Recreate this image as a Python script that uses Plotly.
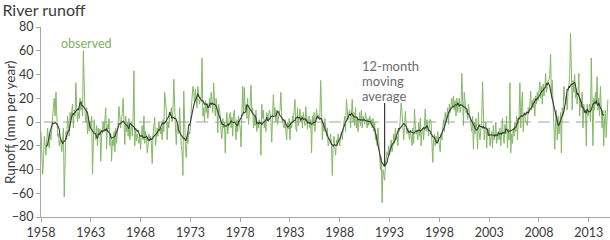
import numpy as np
import pandas as pd
import plotly.graph_objects as go

# monthly observed runoff anomaly (mm per year), one row per year, Jan..Dec
obs_1958_1967 = [
    -8, -25, -44, -30, -12, -20, -28, -15, -5, -18, -22, -10,
    -15, -5, 10, 13, 20, 5, 25, -8, -12, -10, -20, -15,
    -18, -25, -10, -5, -63, -20, -8, -15, 5, -2, -12, 8,
    2, 9, 15, -5, 10, 5, 33, 12, 0, 8, 3, 20,
    10, 18, 5, 60, 22, 8, 0, 12, -10, 5, -8, 0,
    -5, 5, -44, -14, 2, -8, -15, -3, -20, -5, -10, -6,
    -33, -12, -5, 0, -8, 5, 12, -23, -2, -6, 3, -20,
    -10, -33, -15, -20, -8, -25, -5, -18, -2, 0, 13, 3,
    -5, 2, 8, 20, -10, -19, 5, -8, 0, -12, 3, -15,
    -8, 0, -12, 5, 43, -20, -5, -16, -10, -15, -18, -12,
]
obs_1968_1977 = [
    -23, -10, -3, -15, 5, -18, -8, -12, -26, -20, -10, -15,
    -12, -18, -35, -10, -3, 4, -20, -8, -5, -12, 0, -6,
    -10, -5, -15, 2, -8, 25, 15, 10, -15, 0, -5, 8,
    5, 12, 0, 10, 36, 8, -5, -19, -2, -8, -10, 12,
    -10, -20, -25, -45, 26, -15, -20, -30, -12, -18, -8, -10,
    -5, 10, 22, 30, 25, 15, 28, 20, 12, 30, 18, 15,
    20, 20, 54, 5, 12, 0, 18, 8, 15, 3, 10, 20,
    12, 25, 18, 8, 33, 22, 5, 20, 12, -9, 15, 10,
    5, -9, -14, 3, -5, 0, -26, -3, 8, -10, 2, 5,
    8, -5, 4, -12, 7, 10, -3, -15, 2, -8, 5, 0,
]
obs_1978_1987 = [
    -5, -21, 5, 30, 8, 29, 10, 15, 3, 20, -2, 5,
    15, 31, 8, 12, -5, 5, -3, 10, -8, 0, -5, 2,
    -3, -28, 15, 3, 10, -5, 2, -8, 8, 5, 0, 10,
    8, 0, -17, 5, 23, 6, 12, 0, 10, -2, 5, 8,
    10, 25, 5, 0, -3, -5, 2, -8, -15, 0, -6, 3,
    -15, 0, -5, 5, 2, 10, 19, -5, -8, 12, -3, 3,
    11, 0, 5, -5, 8, 2, -3, 13, 0, -6, 4, 5,
    -5, 2, -26, 5, -3, 8, -8, 0, 11, 3, 6, 4,
    5, 35, -5, -15, 0, -8, 3, -10, -12, -5, -20, -18,
    -15, -10, -20, -45, -18, -12, -22, -28, -15, -20, -10, -15,
]
obs_1988_1997 = [
    -20, -12, -8, -15, -5, 0, 5, -8, 19, 5, 2, 8,
    10, -5, 15, 19, 0, 8, -3, 12, -5, 3, -8, 5,
    8, -3, 10, -5, 5, 2, -2, 8, 0, -5, 3, -3,
    5, 0, 2, -5, 3, -8, 0, -15, -10, -20, -5, -18,
    -35, -40, -30, -68, -40, -45, -49, -35, -30, -25, -28, -20,
    -28, -22, -15, -25, -20, -10, -18, -5, -15, -12, -20, -5,
    -8, 5, 16, 8, -2, -15, -5, 9, -3, -10, -5, -12,
    -15, -8, -12, -20, -5, -18, 11, -3, -10, -8, -15, 0,
    -12, 3, -20, -8, -5, -15, 0, 11, -8, 2, -5, -12,
    2, 2, 0, -28, -34, -15, -10, -20, -12, -18, -8, -15,
]
obs_1998_2007 = [
    -20, -25, -10, -15, -5, 2, -8, 8, 0, 5, 12, -2,
    15, 8, 17, 20, 12, 22, 10, 18, 5, 20, 8, 15,
    20, 8, 12, 41, 5, -3, 25, 15, 8, 10, 2, 15,
    10, 5, -2, -8, 5, -23, 0, -10, 3, -5, -23, 8,
    -10, -15, -5, 2, 34, -8, -15, -8, 0, -22, -5, -10,
    -5, -20, -12, -8, -22, -3, -15, -10, 0, -18, -12, -8,
    -15, -5, -20, -8, 3, -12, -18, -2, -10, 5, -22, -6,
    -15, 33, -26, -10, -18, -5, -12, 0, -8, 5, -15, -2,
    5, 33, -5, 12, 25, -8, 8, 5, 0, 0, -3, 12,
    8, 15, 26, 10, 18, 12, 20, 5, 22, 15, 25, 18,
]
obs_2008_2014 = [
    25, 34, 20, 30, 15, 32, 22, 28, 41, 25, 30, 35,
    35, 40, 57, 20, 35, 10, 5, -23, 0, 10, -15, 5,
    -10, -5, 8, -26, 12, 5, 30, 20, 15, 22, 10, 25,
    30, 40, 75, 45, 10, 35, 25, 40, 20, 28, 15, 25,
    41, 5, 20, 12, 25, -5, 15, 8, 10, -20, 15, 5,
    8, 15, 0, 54, 12, -20, 20, 10, 25, 15, 38, 10,
    20, 5, 30, 15, -5, 10, -20, 0, 10, -13, 5, 19,
]

start_year = 1958
x_ticks = [1958, 1963, 1968, 1973, 1978, 1983, 1988, 1993, 1998, 2003, 2008, 2013]
y_ticks = [-80, -60, -40, -20, 0, 20, 40, 60, 80]
ma_label = ["12-month", "moving", "average"]

observed = (obs_1958_1967 + obs_1968_1977 + obs_1978_1987
            + obs_1988_1997 + obs_1998_2007 + obs_2008_2014)
df = pd.DataFrame({"obs": observed})
df["t"] = start_year + np.arange(len(df)) / 12
df["ma"] = df["obs"].rolling(12, center=True).mean()

fig = go.Figure()

# dashed zero line
fig.add_trace(go.Scatter(
    x=[start_year + 0.3, df["t"].iloc[-1]], y=[0, 0],
    mode="lines", line=dict(color="#d0d0d0", width=2, dash="12px,7px"),
    hoverinfo="skip"
))
fig.add_trace(go.Scatter(
    x=df["t"], y=df["obs"], mode="lines",
    line=dict(color="#84b866", width=1)
))
fig.add_trace(go.Scatter(
    x=df["t"], y=df["ma"], mode="lines",
    line=dict(color="#3a3a3a", width=1.1)
))

# pointer from label to the 1992 trough
trough = df.loc[df["ma"].idxmin()]
fig.add_shape(type="line", x0=trough["t"], x1=trough["t"], y0=trough["ma"], y1=16,
              line=dict(color="#3a3a3a", width=1.2))

fig.add_annotation(x=1958.0, y=66, text="observed", showarrow=False,
                   xanchor="left", xshift=18, font=dict(size=12.5, color="#7cb35b"))
for i, line in enumerate(ma_label):
    fig.add_annotation(x=1990.0, y=47.5, yshift=-15 * i, text=line,
                       showarrow=False, xanchor="left", yanchor="middle",
                       font=dict(size=13, color="#6b6b6b"))
fig.add_annotation(xref="paper", yref="paper", x=-0.0545, y=0.5, xanchor="center",
                   text="Runoff (mm per year)", textangle=-90, showarrow=False,
                   font=dict(size=13.5, color="#3a3a3a"))

fig.update_layout(
    width=610, height=240,
    margin=dict(l=41, r=0, t=27, b=21),
    paper_bgcolor="white", plot_bgcolor="white",
    showlegend=False,
    font=dict(family="Lato, Open Sans, sans-serif", color="#3a3a3a"),
    title=dict(text="River runoff", x=0.004, xanchor="left", xref="container",
               y=0.955, yanchor="middle", yref="container",
               font=dict(size=16, color="#3a3a3a")),
)
fig.update_xaxes(
    range=[start_year, 2015.13], tickvals=x_ticks, ticktext=[str(v) for v in x_ticks],
    showgrid=False, zeroline=False, showline=True, linecolor="#a6a6a6", linewidth=1,
    ticks="outside", ticklen=4, tickcolor="#a6a6a6", tickfont=dict(size=12.5)
)
fig.update_yaxes(
    range=[-80, 80], tickvals=y_ticks,
    showgrid=False, zeroline=False, showline=True, linecolor="#a6a6a6", linewidth=1,
    ticks="outside", ticklen=4, tickcolor="#a6a6a6", tickfont=dict(size=12.5)
)

fig.write_html("out.html", config={"displayModeBar": False},
               post_script="document.body.style.margin='0';")
